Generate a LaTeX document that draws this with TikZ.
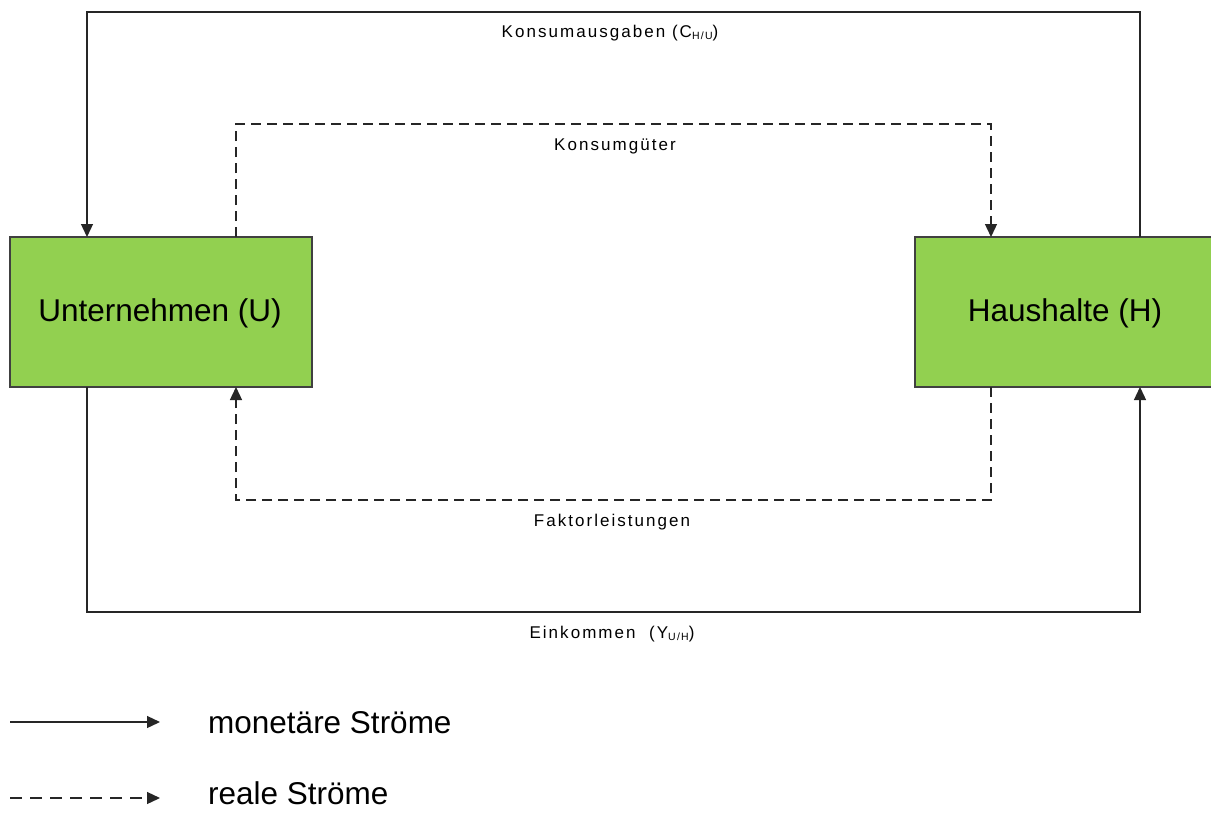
\documentclass[tikz,border=0pt]{standalone}
\usepackage{fontspec}
\setmainfont{Liberation Sans}
\newfontfamily\lblfont[LetterSpace=12]{Liberation Sans}
\usetikzlibrary{arrows.meta}
\definecolor{boxgreen}{HTML}{92D050}
\definecolor{boxline}{HTML}{404040}
\definecolor{flowline}{HTML}{262626}
\tikzset{
  sector/.style={draw=boxline, line width=1.5pt, fill=boxgreen, minimum width=302pt, minimum height=150pt, inner sep=0pt, outer sep=0pt, font=\fontsize{31.5}{36}\selectfont},
  money/.style={draw=flowline, line width=1.3pt, -{Triangle[length=13pt,width=12pt]}},
  real/.style={money, dash pattern=on 10pt off 6pt},
  legreal/.style={money, dash pattern=on 12pt off 8pt},
  flowlabel/.style={anchor=base, inner sep=0pt, font=\fontsize{17}{20}\lblfont},
  legendtext/.style={anchor=base west, inner sep=0pt, font=\fontsize{31.5}{36}\selectfont}
}
\newcommand{\subtxt}[1]{\raisebox{-2.5pt}{\fontsize{10.5}{11}\lblfont #1}}
\begin{document}
\begin{tikzpicture}[x=1pt,y=-1pt]
\clip (0,0) rectangle (1211,812);
\fill[white] (0,0) rectangle (1211,812);
% sector boxes
\node[sector] (U) at (161,312) {};
\node[sector, minimum width=300pt] (H) at (1065,312) {};
\node[anchor=base, inner sep=0pt, font=\fontsize{31.5}{36}\selectfont] (Ut) at (160,321) {Unternehmen (U)};
\node[anchor=base, inner sep=0pt, font=\fontsize{31.5}{36}\selectfont] (Ht) at (1065,321) {Haushalte (H)};
% routing coordinates
\coordinate (xs1) at (87,0);
\coordinate (xd1) at (236,0);
\coordinate (xd2) at (991,0);
\coordinate (xs2) at (1140,0);
\coordinate (top) at (612,12);
\coordinate (dtop) at (612,124);
\coordinate (dbot) at (612,500);
\coordinate (bot) at (612,612);
% flows
\draw[money] (H.north -| xs2) |- (top) -| (U.north -| xs1);
\draw[real] (U.north -| xd1) |- (dtop) -| (H.north -| xd2);
\draw[real] (H.south -| xd2) |- (dbot) -| (U.south -| xd1);
\draw[money] (U.south -| xs1) |- (bot) -| (H.south -| xs2);
% labels
\node[flowlabel] (l1) at (610,37) {Konsumausgaben (C\subtxt{H/U})};
\node[flowlabel] (l2) at (615,150) {Konsumgüter};
\node[flowlabel] (l3) at (612,526) {Faktorleistungen};
\node[flowlabel] (l4) at (612,638) {Einkommen \ (Y\subtxt{U/H})};
% legend
\coordinate (m1) at (10,722);
\coordinate (m2) at (160,722);
\coordinate (r1) at (10,798);
\coordinate (r2) at (160,798);
\draw[money] (m1) -- (m2);
\draw[legreal] (r1) -- (r2);
\node[legendtext] (mt) at (208,733) {monetäre Ströme};
\node[legendtext] (rt) at (208,804) {reale Ströme};
\end{tikzpicture}
\end{document}
